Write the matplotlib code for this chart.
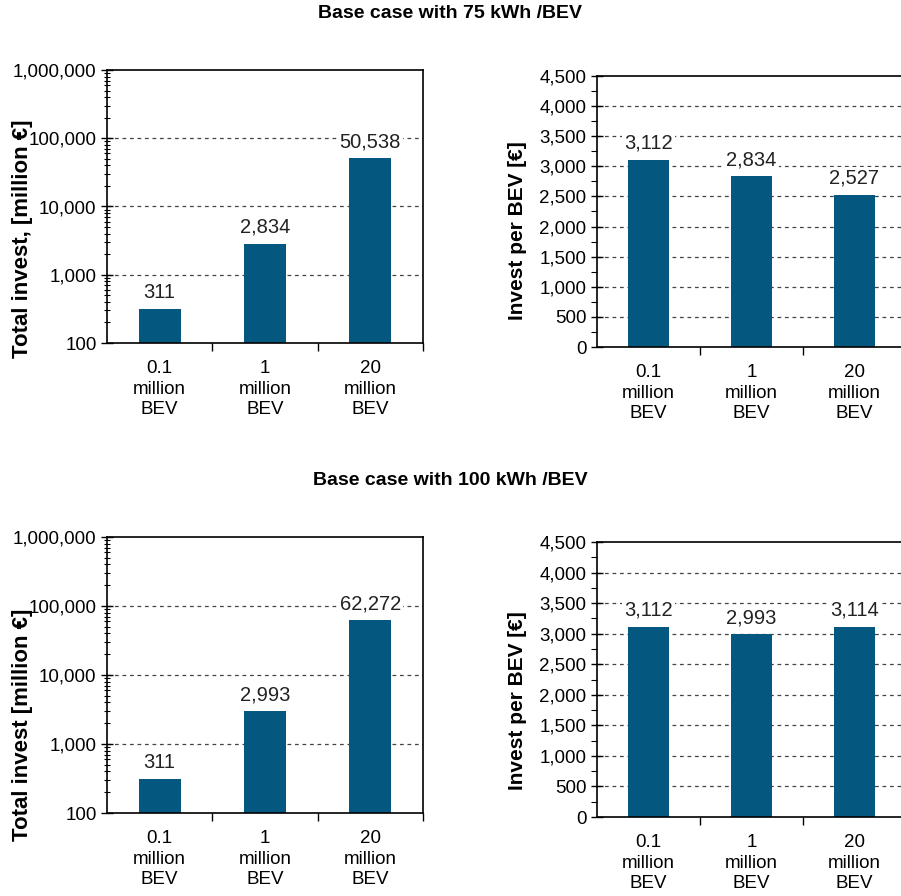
import numpy as np
import matplotlib
matplotlib.use("Agg")
import matplotlib.pyplot as plt
from matplotlib.ticker import FixedLocator, MultipleLocator, FuncFormatter

plt.rcParams['font.family'] = ['Liberation Sans', 'DejaVu Sans']

categories = ["0.1\nmillion\nBEV", "1\nmillion\nBEV", "20\nmillion\nBEV"]

total_75 = [311, 2834, 50538]
per_bev_75 = [3112, 2834, 2527]
total_100 = [311, 2993, 62272]
per_bev_100 = [3112, 2993, 3114]

titles = ["Base case with 75 kWh /BEV", "Base case with 100 kWh /BEV"]
total_labels = ["Total invest, [million \u20ac]", "Total invest [million \u20ac]"]
per_label = "Invest per BEV [\u20ac]"

BAR = "#04587f"
GRID = "#444444"
W, H = 901, 896

fig = plt.figure(figsize=(W / 100, H / 100), dpi=100)


def fbox(l, t, r, b):
    # pixel box (left, top, right, bottom) -> figure fraction rect
    return [l / W, 1 - b / H, (r - l) / W, (b - t) / H]


thousands = FuncFormatter(lambda v, p: f"{v:,.0f}")


def style_x(ax):
    x = np.arange(len(categories))
    ax.set_xlim(-0.5, len(categories) - 0.5)
    ax.set_xticks(x)
    ax.set_xticklabels(categories, fontsize=13.5, linespacing=1.3)
    ax.tick_params(axis='x', which='major', length=0, pad=12)
    ax.xaxis.set_minor_locator(FixedLocator(list(x + 0.5)))
    ax.tick_params(axis='x', which='minor', direction='out', length=6, width=1)
    for s in ax.spines.values():
        s.set_linewidth(1.2)


def label_bars(ax, bars, values):
    for b, v in zip(bars, values):
        ax.annotate(f"{v:,}", (b.get_x() + b.get_width() / 2, b.get_height()),
                    xytext=(0, 5), textcoords='offset points', ha='center', va='bottom',
                    fontsize=14.5, color='#222222',
                    bbox=dict(boxstyle='square,pad=0.1', fc='white', ec='none'))


def total_panel(rect, values, ylabel, ly):
    ax = fig.add_axes(rect)
    x = np.arange(len(categories))
    bars = ax.bar(x, values, width=0.4, color=BAR, zorder=2)
    ax.set_yscale('log')
    ax.set_ylim(100, 1_000_000)
    ax.yaxis.set_major_locator(FixedLocator([100, 1000, 10000, 100000, 1000000]))
    ax.yaxis.set_major_formatter(thousands)
    ax.tick_params(axis='y', which='major', direction='inout', length=8, width=1, labelsize=13.5)
    ax.tick_params(axis='y', which='minor', direction='inout', length=5, width=0.8)
    for g in [1000, 10000, 100000]:
        ax.axhline(g, color=GRID, lw=0.9, ls=(0, (3, 3)), zorder=1)
    style_x(ax)
    ax.set_ylabel(ylabel, fontsize=16, fontweight='bold')
    ax.yaxis.set_label_coords(-0.234, ly)
    label_bars(ax, bars, values)
    return ax


def per_panel(rect, values, ly):
    ax = fig.add_axes(rect)
    x = np.arange(len(categories))
    bars = ax.bar(x, values, width=0.4, color=BAR, zorder=2)
    ax.set_ylim(0, 4500)
    ax.yaxis.set_major_locator(MultipleLocator(500))
    ax.yaxis.set_minor_locator(MultipleLocator(250))
    ax.yaxis.set_major_formatter(thousands)
    ax.tick_params(axis='y', which='major', direction='inout', length=8, width=1, labelsize=13.5)
    ax.tick_params(axis='y', which='minor', direction='out', length=4, width=0.8)
    for g in range(500, 4500, 500):
        ax.axhline(g, color=GRID, lw=0.9, ls=(0, (3, 3)), zorder=1)
    style_x(ax)
    ax.set_ylabel(per_label, fontsize=15, fontweight='bold')
    ax.yaxis.set_label_coords(-0.227, ly)
    label_bars(ax, bars, values)
    return ax


total_panel(fbox(107, 70, 423, 343), total_75, total_labels[0], 0.383)
per_panel(fbox(597, 76, 906, 347), per_bev_75, 0.43)
total_panel(fbox(107, 537, 423, 813), total_100, total_labels[1], 0.32)
per_panel(fbox(597, 542, 906, 817), per_bev_100, 0.425)

for t, y in zip(titles, [14, 480]):
    fig.text(0.5, 1 - y / H, t, ha='center', va='center', fontsize=14, fontweight='bold')

fig.savefig("out.png", dpi=100)
